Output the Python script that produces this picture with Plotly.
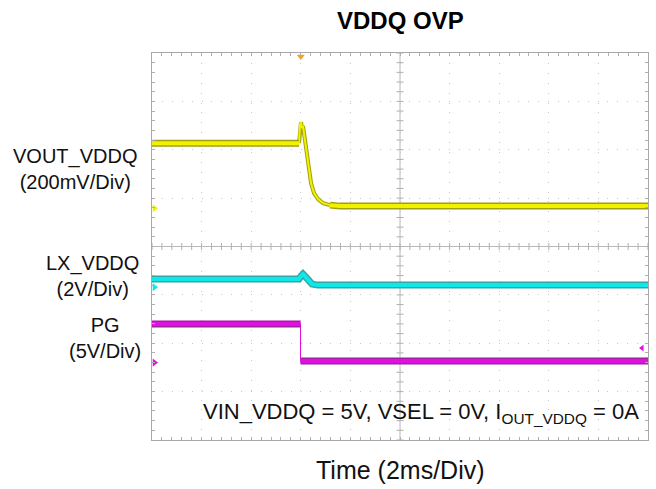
import plotly.graph_objects as go

# ---- data (units: divisions; x 0..10 div at 2 ms/div, y 0..8 div) ----
vout_x = [0, 2.964, 2.984, 3.004, 3.024, 3.044, 3.085, 3.145, 3.206, 3.266, 3.347, 3.448, 3.589, 3.790, 10]
vout_y = [6.136, 6.136, 6.529, 6.570, 6.446, 6.488, 6.198, 5.682, 5.310, 5.103, 4.979, 4.897, 4.855, 4.835, 4.835]

lx_x = [0, 2.964, 3.004, 3.044, 3.085, 3.145, 3.226, 3.347, 10]
lx_y = [3.326, 3.326, 3.388, 3.430, 3.388, 3.306, 3.223, 3.202, 3.202]

pg_x = [0, 2.994, 2.994, 10]
pg_y = [2.397, 2.397, 1.632, 1.632]

ref_levels = {"VOUT": 4.79, "LX": 3.16, "PG": 1.60}
pg_right_marker = 1.90
trigger_x = 3.0

title_text = "<b>VDDQ OVP</b>"
x_title = "Time (2ms/Div)"
cond_text = "VIN_VDDQ = 5V, VSEL = 0V, I<sub>OUT_VDDQ</sub> = 0A"

FONT = "Liberation Sans, Arial, sans-serif"
YEL, YEL_D = "#f2f200", "#a0a010"
CYN, CYN_D = "#10e8e8", "#30a8a8"
MAG, MAG_D = "#e010e0", "#a020a0"

fig = go.Figure()

# center cross lines with tick marks
minor = [i * 0.2 for i in range(51)]
minor_y = [i * 0.2 for i in range(41)]
fig.add_shape(type="line", x0=0, x1=10, y0=4, y1=4, line=dict(color="#b8b8b8", width=1), layer="below")
fig.add_shape(type="line", x0=5, x1=5, y0=0, y1=8, line=dict(color="#b8b8b8", width=1), layer="below")
fig.add_trace(go.Scatter(x=minor, y=[4] * len(minor), mode="markers",
                         marker=dict(symbol="line-ns", size=5, line=dict(color="#b0b0b0", width=1)),
                         hoverinfo="skip", showlegend=False))
fig.add_trace(go.Scatter(x=[5] * len(minor_y), y=minor_y, mode="markers",
                         marker=dict(symbol="line-ew", size=5, line=dict(color="#b0b0b0", width=1)),
                         hoverinfo="skip", showlegend=False))

def band(x, y, c, cd, w=7):
    fig.add_trace(go.Scatter(x=x, y=y, mode="lines", line=dict(color=cd, width=w),
                             hoverinfo="skip", showlegend=False))
    fig.add_trace(go.Scatter(x=x, y=y, mode="lines", line=dict(color=c, width=w - 3),
                             hoverinfo="skip", showlegend=False))

# VOUT: thick flat parts, thinner transient
n_pre, n_post = 2, 12
fig.add_trace(go.Scatter(x=vout_x[1:n_post + 1], y=vout_y[1:n_post + 1], mode="lines",
                         line=dict(color=YEL_D, width=4), hoverinfo="skip", showlegend=False))
fig.add_trace(go.Scatter(x=vout_x[1:n_post + 1], y=vout_y[1:n_post + 1], mode="lines",
                         line=dict(color=YEL, width=2), hoverinfo="skip", showlegend=False))
band(vout_x[:n_pre] + [None] + vout_x[n_post:], vout_y[:n_pre] + [None] + vout_y[n_post:], YEL, YEL_D)
band(lx_x, lx_y, CYN, CYN_D)
# PG: thick flat parts, thin vertical edge
fig.add_trace(go.Scatter(x=pg_x, y=pg_y, mode="lines", line=dict(color=MAG, width=1),
                         hoverinfo="skip", showlegend=False))
pg_xs = pg_x[:2] + [None] + pg_x[2:]
pg_ys = pg_y[:2] + [None] + pg_y[2:]
band(pg_xs, pg_ys, MAG, MAG_D)

# ground reference markers
fig.add_trace(go.Scatter(x=[0.05] * 3, y=[ref_levels["VOUT"], ref_levels["LX"], ref_levels["PG"]],
                         mode="markers", marker=dict(symbol="triangle-right", size=7,
                                                     color=[YEL, CYN, MAG]),
                         hoverinfo="skip", showlegend=False))
fig.add_trace(go.Scatter(x=[9.88], y=[pg_right_marker], mode="markers",
                         marker=dict(symbol="triangle-left", size=6, color=MAG),
                         hoverinfo="skip", showlegend=False))
fig.add_trace(go.Scatter(x=[trigger_x], y=[7.93], mode="markers",
                         marker=dict(symbol="triangle-down", size=7, color="#f5a020"),
                         hoverinfo="skip", showlegend=False, cliponaxis=False))

axis_common = dict(showgrid=True, gridcolor="#c8c8c8", griddash="1px,8.9px", gridwidth=1,
                   zeroline=False, showline=True, linecolor="#a8a8a8", linewidth=1, mirror="allticks",
                   ticks="inside", ticklen=3, tickcolor="#b0b0b0", showticklabels=False, dtick=1,
                   minor=dict(ticks="inside", ticklen=3, tickcolor="#b0b0b0", dtick=0.2, showgrid=False),
                   fixedrange=True)
fig.update_xaxes(range=[0, 10], tick0=0, **axis_common)
fig.update_yaxes(range=[0, 8], tick0=0, **axis_common)

fig.add_annotation(text=title_text, xref="paper", yref="paper", x=0.5, y=1, yshift=33,
                   yanchor="middle", showarrow=False, font=dict(family=FONT, size=24, color="black"))
fig.add_annotation(text=x_title, xref="paper", yref="paper", x=0.5, y=0, yshift=-30,
                   yanchor="middle", showarrow=False, font=dict(family=FONT, size=25, color="#111"))
fig.add_annotation(text=cond_text, xref="x", yref="y", x=9.85, y=0.55, xanchor="right",
                   yanchor="middle", showarrow=False, font=dict(family=FONT, size=22, color="#111"))

labels = [("VOUT_VDDQ<br>(200mV/Div)", 75, 155 + 13.5),
          ("LX_VDDQ<br>(2V/Div)", 92, 262 + 13.5),
          ("PG<br>(5V/Div)", 105, 338)]
for txt, xc, yc in labels:
    fig.add_annotation(text=txt, xref="paper", yref="paper",
                       x=(xc - 152) / 496, y=(440 - yc) / 387, xanchor="center", yanchor="middle",
                       showarrow=False, align="center",
                       font=dict(family=FONT, size=20, color="#111"))

fig.update_layout(width=656, height=489, margin=dict(l=152, r=8, t=53, b=49),
                  plot_bgcolor="white", paper_bgcolor="white", showlegend=False)

fig.write_html("out.html")
